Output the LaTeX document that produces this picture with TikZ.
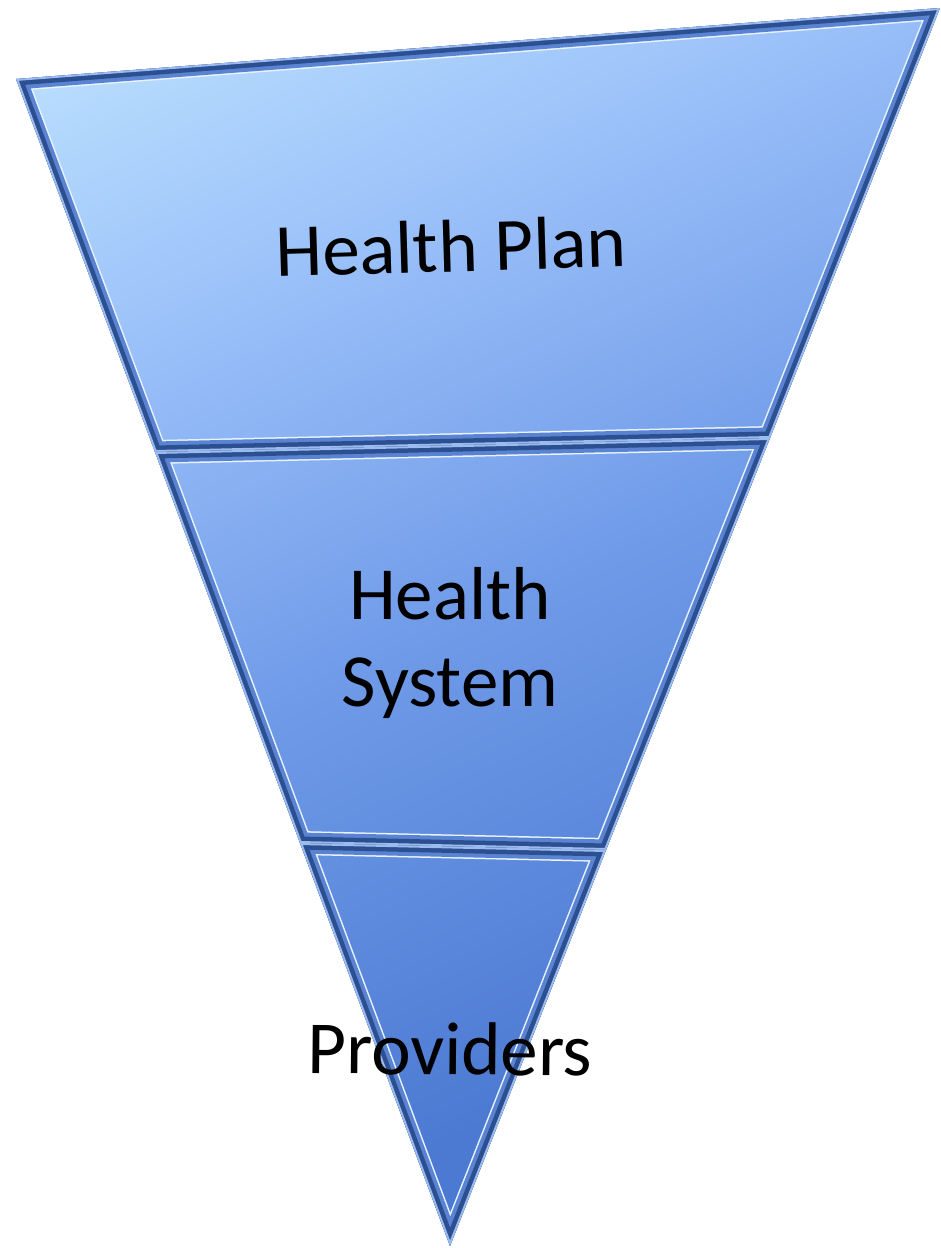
\documentclass[tikz,border=0pt]{standalone}
\usepackage{fontspec}
\setmainfont{Carlito}
\usepackage{tikz}

\definecolor{iceblue}{HTML}{C6EAFF}
\definecolor{paleblue}{HTML}{9DC3FA}
\definecolor{midblue}{HTML}{6F9AE8}
\definecolor{deepblue}{HTML}{4C7AD2}
\definecolor{bevelrim}{HTML}{9BBBEE}
\definecolor{beveldark}{HTML}{2B4F90}
\definecolor{bevelmid}{HTML}{5A84D2}
\definecolor{glint}{HTML}{E8F3FF}

\pgfdeclareverticalshading{funnel}{100bp}{color(0bp)=(deepblue); color(30bp)=(deepblue);
  color(50bp)=(midblue); color(68bp)=(paleblue); color(85bp)=(iceblue); color(100bp)=(iceblue)}

% one bevelled slice of the funnel
\newcommand{\funnelseg}[1]{%
  \begin{scope}
    \clip #1;
    \shade[shading=funnel,shading angle=25] (0,0) rectangle (941,1248);
    \draw[line width=24pt,glint] #1;
    \draw[line width=21pt,bevelmid] #1;
    \draw[line width=13pt,beveldark] #1;
    \draw[line width=4pt,bevelrim] #1;
  \end{scope}}

\begin{document}
\begin{tikzpicture}[x=1pt,y=-1pt,
    label/.style={font=\fontsize{75}{87}\selectfont,align=center,text=black}]
  \useasboundingbox (0,0) rectangle (941,1248);
  \coordinate (tl) at (16,79);
  \coordinate (tr) at (940,8);
  \coordinate (ar) at (770,438);
  \coordinate (al) at (155,452);
  \coordinate (br) at (606,850);
  \coordinate (bl) at (300,843);
  \coordinate (tip) at (450,1246);
  \funnelseg{(tl)--(tr)--(ar)--(al)--cycle}
  \funnelseg{(al)--(ar)--(br)--(bl)--cycle}
  \funnelseg{(bl)--(br)--(tip)--cycle}
  \node[label,rotate=1.7] (plan) at (451,246) {Health Plan};
  \node[label] (system) at (450,643) {Health\\System};
  \node[label,rotate=-0.5] (providers) at (450,1049) {Providers};
\end{tikzpicture}
\end{document}
